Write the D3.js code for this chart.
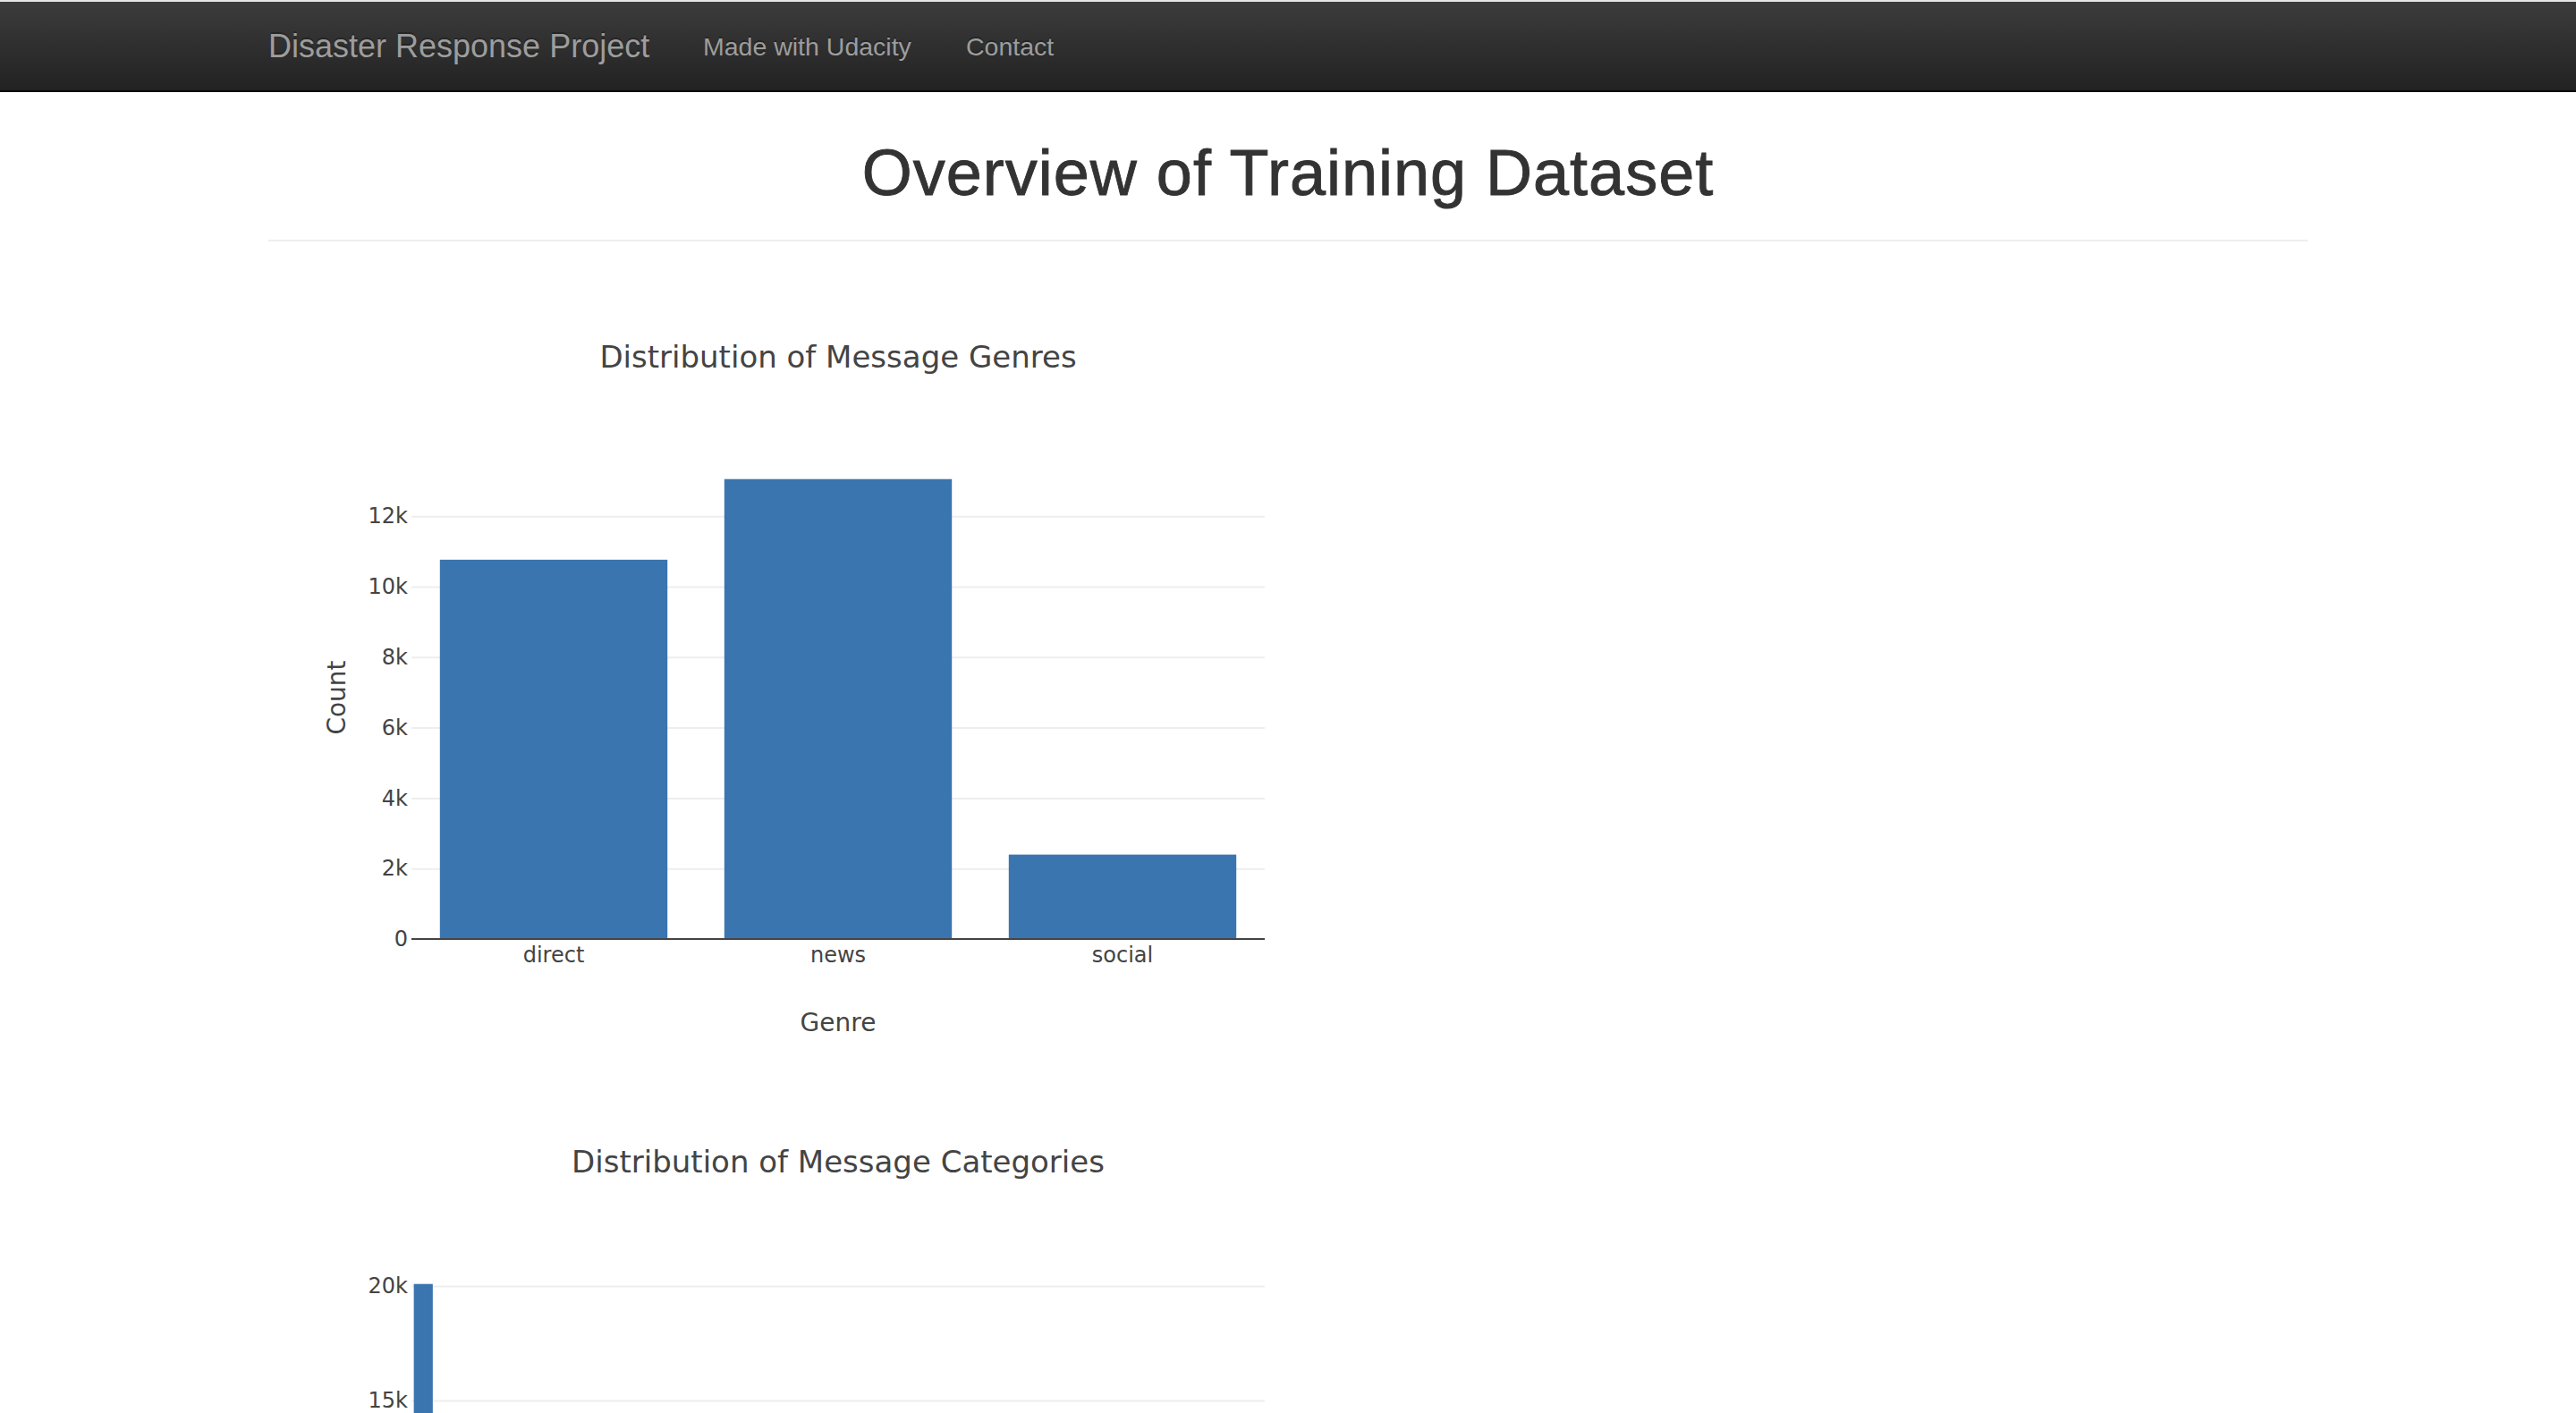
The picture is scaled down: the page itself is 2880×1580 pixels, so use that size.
<!DOCTYPE html>
<html><head><meta charset="utf-8">
<script src="https://cdn.jsdelivr.net/npm/d3@7"></script>
<style>
html,body{margin:0;padding:0;background:#fff;overflow:hidden;}
svg{display:block;}
</style></head>
<body>
<svg id="page" width="2880" height="1580"></svg>
<script>
// ---- data ----
const genres = ["direct", "news", "social"];
const genreCounts = [10766, 13054, 2396];
const genreTicks = [0, 2000, 4000, 6000, 8000, 10000, 12000];

const categories = ["related","request","offer","aid_related","medical_help","medical_products","search_and_rescue","security","military","child_alone","water","food","shelter","clothing","money","missing_people","refugees","death","other_aid","infrastructure_related","transport","buildings","electricity","tools","hospitals","shops","aid_centers","other_infrastructure","weather_related","floods","storm","fire","earthquake","cold","other_weather","direct_report"];
const categoryCounts = [20094,4474,118,10860,2084,1313,724,471,860,0,1672,2923,2314,405,604,298,875,1194,3446,1705,1201,1333,532,159,283,120,309,1151,7297,2155,2443,282,2455,530,1376,5075];
const categoryTicks = [0, 5000, 10000, 15000, 20000];

const brand = "Disaster Response Project";
const navLinks = ["Made with Udacity", "Contact"];
const pageTitle = "Overview of Training Dataset";

// ---- page ----
const PAGE_H = 1580;
const svg = d3.select("#page");
const W = 2880;
const defs = svg.append("defs");
const grad = defs.append("linearGradient").attr("id","navgrad").attr("x1",0).attr("y1",0).attr("x2",0).attr("y2",1);
grad.append("stop").attr("offset","0%").attr("stop-color","#3c3c3c");
grad.append("stop").attr("offset","100%").attr("stop-color","#222222");

svg.append("rect").attr("x",0).attr("y",0).attr("width",W).attr("height",2).attr("fill","#e6e6e6");
svg.append("rect").attr("x",0).attr("y",2).attr("width",W).attr("height",99).attr("fill","url(#navgrad)");
svg.append("rect").attr("x",0).attr("y",101).attr("width",W).attr("height",2).attr("fill","#080808");

const navFont = "'Liberation Sans', Arial, Helvetica, sans-serif";
function navText(txt, x, y, size) {
  svg.append("text").attr("x",x).attr("y",y-2).attr("font-family",navFont).attr("font-size",size)
    .attr("fill","rgba(0,0,0,0.25)").text(txt);
  svg.append("text").attr("x",x).attr("y",y).attr("font-family",navFont).attr("font-size",size)
    .attr("fill","#9d9d9d").text(txt);
}
navText(brand, 300, 64, 36);
const linkX = [786, 1080];
navLinks.forEach((t,i) => navText(t, linkX[i], 62, 28.5));

svg.append("text").attr("x",1440).attr("y",218).attr("text-anchor","middle")
  .attr("font-family",navFont).attr("font-size",72).attr("font-weight",500)
  .attr("letter-spacing", 1)
  .attr("fill","#333").attr("stroke","#333").attr("stroke-width",0.9).text(pageTitle);
svg.append("rect").attr("x",300).attr("y",268).attr("width",2280).attr("height",2).attr("fill","#eeeeee");

// ---- charts ----
const chartFont = "'DejaVu Sans', Verdana, sans-serif";
const barColor = "#3b75af";
const plotLeft = 460, plotRight = 1414, plotH = 540;

function drawChart(paperTop, title, cats, vals, ticks, xTitle, yTitle, rotate) {
  const g = svg.append("g");
  const top = paperTop + 200, bottom = top + plotH;
  const x = d3.scaleBand().domain(cats).range([plotLeft, plotRight]).paddingInner(0.2).paddingOuter(0.1);
  const y = d3.scaleLinear().domain([0, d3.max(vals) * 1.05]).range([bottom, top]);

  // gridlines + y labels (only the part that lies inside the visible page)
  const visTicks = ticks.filter(t => y(t) < PAGE_H - 10);
  const yAxis = g.append("g").attr("transform", `translate(${plotLeft},0)`)
    .call(d3.axisLeft(y).tickValues(visTicks).tickFormat(d3.format("~s"))
      .tickSize(-(plotRight - plotLeft)).tickPadding(4));
  yAxis.select(".domain").remove();
  yAxis.selectAll(".tick line").attr("stroke", d => d === 0 ? "none" : "#eeeeee").attr("stroke-width", 2);
  yAxis.selectAll(".tick text").attr("font-family", chartFont).attr("font-size", 24).attr("fill", "#444");

  // bars
  g.append("g").selectAll("rect").data(cats).join("rect")
    .attr("x", d => x(d)).attr("width", x.bandwidth())
    .attr("y", (d,i) => y(vals[i])).attr("height", (d,i) => y(0) - y(vals[i]))
    .attr("fill", barColor);

  // zero line
  g.append("line").attr("x1", plotLeft).attr("x2", plotRight)
    .attr("y1", y(0)).attr("y2", y(0)).attr("stroke", "#444").attr("stroke-width", 2);

  // x labels (skipped when the axis lies below the visible page)
  if (y(0) < PAGE_H) {
    const xAxis = g.append("g").attr("transform", `translate(0,${y(0)})`)
      .call(d3.axisBottom(x).tickSize(0).tickPadding(9));
    xAxis.select(".domain").remove();
    xAxis.selectAll(".tick text").attr("font-family", chartFont).attr("font-size", 24).attr("fill", "#444");
    if (rotate) {
      xAxis.selectAll(".tick text").attr("text-anchor", "end").attr("dy", "0.35em")
        .attr("transform", "translate(0,4) rotate(-30)");
    }
    if (xTitle) {
      g.append("text").attr("x", (plotLeft + plotRight) / 2).attr("y", bottom + 103)
        .attr("text-anchor", "middle").attr("font-family", chartFont).attr("font-size", 28)
        .attr("fill", "#444").text(xTitle);
    }
  }

  // titles
  g.append("text").attr("x", (plotLeft + plotRight) / 2).attr("y", paperTop + 101)
    .attr("text-anchor", "middle").attr("font-family", chartFont).attr("font-size", 34)
    .attr("fill", "#444").text(title);
  const yMid = (top + bottom) / 2;
  if (yMid + 60 < PAGE_H) {
    g.append("text").attr("transform", `translate(386,${yMid}) rotate(-90)`)
      .attr("text-anchor", "middle").attr("font-family", chartFont).attr("font-size", 28)
      .attr("fill", "#444").text(yTitle);
  }
}

drawChart(310, "Distribution of Message Genres", genres, genreCounts, genreTicks, "Genre", "Count", false);
drawChart(1210, "Distribution of Message Categories", categories, categoryCounts, categoryTicks, "Category", "Count", true);
</script>
</body></html>
